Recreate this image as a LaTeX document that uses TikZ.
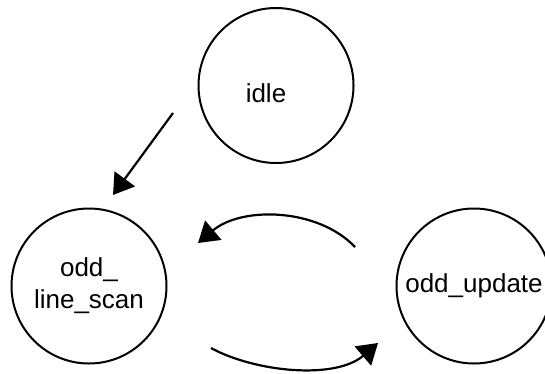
\documentclass[tikz,border=0pt]{standalone}
\usepackage{fontspec}
\setmainfont{Liberation Sans}
\usetikzlibrary{arrows.meta,calc}
\begin{document}
\begin{tikzpicture}[x=1pt,y=-1pt,
  state/.style={draw, circle, line width=2pt, minimum size=155pt, inner sep=0pt,
    font=\fontsize{26}{32}\selectfont, align=center},
  txt/.style={inner sep=0pt, font=\fontsize{26}{32}\selectfont},
  conn/.style={line width=2.2pt, -{Triangle[length=20pt,width=25pt]}}]
\useasboundingbox (0,0) rectangle (545,373);
\node[state] (idle) at (276,85.5) {};
\node[txt] (idletext) at (266,93) {idle};
\node[state] (odd_line_scan) at (89,286) {odd\_\\line\_scan};
\node[state] (odd_update) at (474,286) {odd\_update};
\draw[conn] ($(idle.center)+(-103,27.5)$) -- ($(odd_line_scan.center)+(24,-91)$);
\draw[conn] ($(odd_update.center)+(-119,-39)$) .. controls (318,208) and (242,206) .. ($(odd_line_scan.center)+(109,-43)$);
\draw[conn] ($(odd_line_scan.center)+(122,62)$) .. controls (255,372) and (335,380) .. ($(odd_update.center)+(-96,57)$);
\end{tikzpicture}
\end{document}
